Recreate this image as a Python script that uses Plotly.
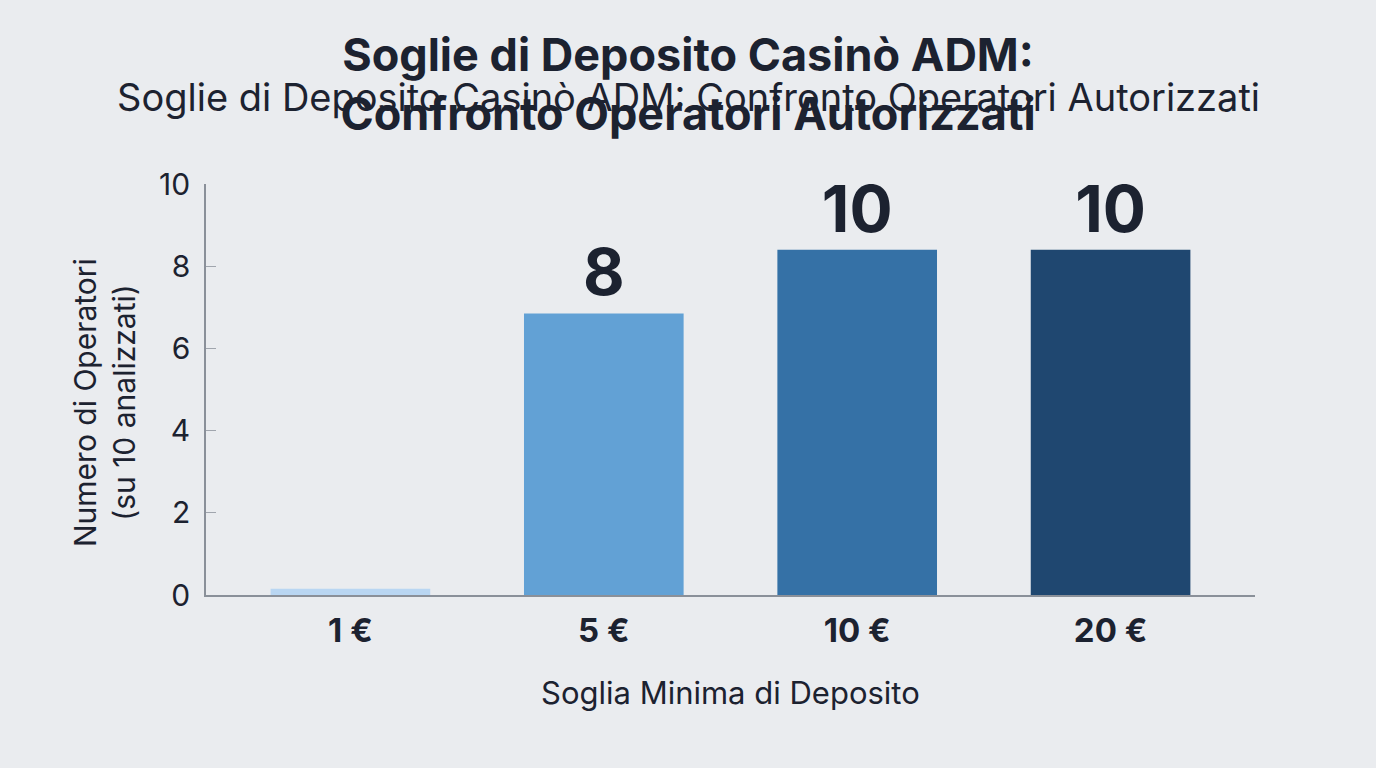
import plotly.graph_objects as go

# dati
soglie = ["1 €", "5 €", "10 €", "20 €"]
altezze = [0.15, 6.85, 8.4, 8.4]
etichette = ["", "8", "10", "10"]
colori = ["#b9d6f2", "#62a1d5", "#3571a6", "#1f4770"]

titolo = "Soglie di Deposito Casinò ADM:<br>Confronto Operatori Autorizzati"
sottotitolo = "Soglie di Deposito Casinò ADM: Confronto Operatori Autorizzati"
titolo_x = "Soglia Minima di Deposito"
titolo_y = "Numero di Operatori<br>(su 10 analizzati)"

FONT = "Inter"
TESTO = "#1c2230"

fig = go.Figure()
fig.add_trace(go.Bar(
    x=soglie,
    y=altezze,
    marker=dict(color=colori, line=dict(width=0)),
    width=0.63,
    text=etichette,
    textposition="outside",
    textfont=dict(family=FONT, size=64, color=TESTO, weight="bold"),
    cliponaxis=False,
))

fig.update_layout(
    width=1376,
    height=768,
    margin=dict(l=206, r=121, t=184, b=173),
    paper_bgcolor="#eaecef",
    plot_bgcolor="rgba(0,0,0,0)",
    showlegend=False,
    font=dict(family=FONT, color=TESTO),
    title=dict(
        text=titolo,
        x=0.5, xref="container", xanchor="center",
        y=1 - 71 / 768, yref="container", yanchor="middle",
        font=dict(family=FONT, size=45, color=TESTO, weight="bold"),
    ),
)

# sottotitolo sovrapposto
fig.add_annotation(
    text=sottotitolo, xref="paper", yref="paper",
    x=(688 - 206) / 1049, y=(595 - 97) / 411,
    xanchor="center", yanchor="middle", showarrow=False,
    font=dict(family=FONT, size=38, color=TESTO),
)
# titolo asse y
fig.add_annotation(
    text=titolo_y, xref="paper", yref="paper",
    x=(104 - 206) / 1049, y=(595 - 403) / 411,
    xanchor="center", yanchor="middle", showarrow=False, textangle=-90,
    font=dict(family=FONT, size=30, color=TESTO),
)
# titolo asse x
fig.add_annotation(
    text=titolo_x, xref="paper", yref="paper",
    x=(730 - 206) / 1049, y=(595 - 692) / 411,
    xanchor="center", yanchor="middle", showarrow=False,
    font=dict(family=FONT, size=31, color=TESTO),
)

fig.update_xaxes(
    range=[-0.57, 3.57],
    showgrid=False, zeroline=False,
    showline=True, linecolor="#8a9099", linewidth=1.5,
    ticks="", ticklabelstandoff=6,
    tickfont=dict(family=FONT, size=33, color=TESTO, weight="bold"),
)
fig.update_yaxes(
    range=[0, 10], tickvals=[0, 2, 4, 6, 8, 10],
    showgrid=False, zeroline=False,
    showline=True, linecolor="#8a9099", linewidth=1.5,
    ticks="inside", ticklen=10, tickcolor="#a0a5ad", tickwidth=1,
    ticklabelstandoff=8,
    tickfont=dict(family=FONT, size=30, color=TESTO),
)

fig.write_html("out.html", config={"displayModeBar": False},
               post_script="document.body.style.margin='0';")
